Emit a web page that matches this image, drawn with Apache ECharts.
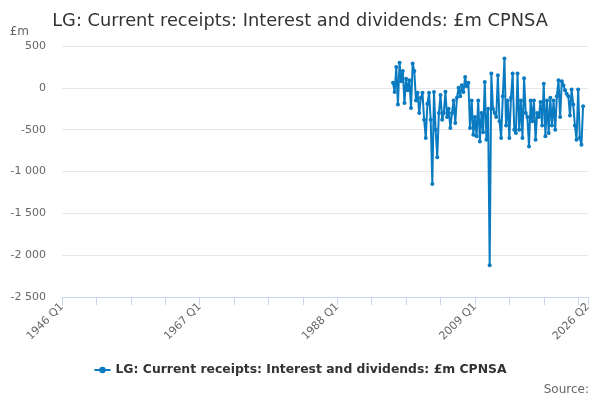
<!DOCTYPE html>
<html>
<head>
<meta charset="utf-8">
<script src="https://cdn.jsdelivr.net/npm/echarts@6/dist/echarts.min.js"></script>
<style>
  html, body { margin: 0; padding: 0; background: #fff; }
  #chart { width: 600px; height: 400px; }
</style>
</head>
<body>
<div id="chart"></div>
<script>
// axis runs 1946 Q1 .. 2026 Q2
var firstYear = 1946;
var lastLabel = '2026 Q2';
// values start at 1996 Q3
var startLabel = '1996 Q3';
var values = [
  60, -50, 250, -200, 300, 80, 200, -180, 110, -30,
  90, -240, 290, 200, -150, -60, -300, -120, -60, -380,
  -600, -190, -60, -380, -1150, -50, -500, -830, -300, -85,
  -380, -300, -47, -350, -250, -480, -300, -150, -420, -120,
  0, -100, 30, -50, 130, 20, 60, -480, -150, -560,
  -350, -580, -150, -640, -300, -530, 70, -620, -250, -2120,
  170, -250, -300, -350, 150, -400, -600, -100, 350, -450,
  -150, -600, -120, 170, -500, -540, 170, -500, -150, -600,
  115, -300, -350, -700, -150, -400, -150, -620, -300, -350,
  -170, -450, 50, -580, -150, -540, -120, -450, -150, -500,
  -100, 90, -350, 80, 30, -30, -70, -100, -330, -20,
  -200, -450, -620, -20, -600, -680, -220
];
var seriesName = 'LG: Current receipts: Interest and dividends: £m CPNSA';

var quarters = [];
for (var y = firstYear; ; y++) {
  var done = false;
  for (var q = 1; q <= 4; q++) {
    var lab = y + ' Q' + q;
    quarters.push(lab);
    if (lab === lastLabel) { done = true; break; }
  }
  if (done) break;
}
var startIdx = quarters.indexOf(startLabel);
var seriesData = quarters.map(function (c, i) {
  var k = i - startIdx;
  return (k >= 0 && k < values.length) ? values[k] : null;
});
var lastIdx = quarters.length - 1;

var chart = echarts.init(document.getElementById('chart'));
chart.setOption({
  animation: false,
  title: {
    text: 'LG: Current receipts: Interest and dividends: £m CPNSA',
    left: 'center',
    top: 7,
    textStyle: { fontFamily: 'DejaVu Sans', fontSize: 17.8, fontWeight: 'normal', color: '#333' }
  },
  grid: { left: 62, right: 12, top: 46, bottom: 103 },
  legend: {
    bottom: 19,
    left: 'center',
    itemWidth: 16,
    itemHeight: 8,
    textStyle: { fontFamily: 'DejaVu Sans', fontSize: 12.4, fontWeight: 'bold', color: '#333' },
    data: [seriesName]
  },
  graphic: [{
    type: 'text',
    right: 11,
    bottom: 4,
    style: { text: 'Source:', font: '12px "DejaVu Sans"', fill: '#666' }
  }],
  xAxis: {
    type: 'category',
    data: quarters,
    boundaryGap: false,
    axisLine: { onZero: false, lineStyle: { color: '#ccd6eb' } },
    axisTick: {
      length: 8,
      lineStyle: { color: '#ccd6eb' },
      interval: function (i) { return i % 21 === 0 || i === lastIdx; }
    },
    axisLabel: {
      rotate: 45,
      fontFamily: 'DejaVu Sans',
      fontSize: 11,
      color: '#666',
      interval: function (i) { return i % 84 === 0 || i === lastIdx; }
    },
    splitLine: { show: false }
  },
  yAxis: {
    type: 'value',
    min: -2500,
    max: 500,
    interval: 500,
    name: '£m',
    nameLocation: 'end',
    nameGap: 8,
    nameTextStyle: { fontFamily: 'DejaVu Sans', fontSize: 12, color: '#666', align: 'right', padding: [0, 33, 0, 0] },
    axisLine: { show: false },
    axisTick: { show: false },
    axisLabel: {
      fontFamily: 'DejaVu Sans',
      fontSize: 11,
      color: '#666',
      margin: 16,
      formatter: function (v) {
        var s = String(Math.abs(v)).replace(/\B(?=(\d{3})+(?!\d))/g, ' ');
        return (v < 0 ? '-' : '') + s;
      }
    },
    splitLine: { lineStyle: { color: '#e6e6e6' } }
  },
  series: [{
    name: seriesName,
    type: 'line',
    data: seriesData,
    color: '#0a7bc1',
    symbol: 'circle',
    symbolSize: 4,
    showAllSymbol: true,
    lineStyle: { width: 2 },
    connectNulls: false
  }]
});
</script>
</body>
</html>
